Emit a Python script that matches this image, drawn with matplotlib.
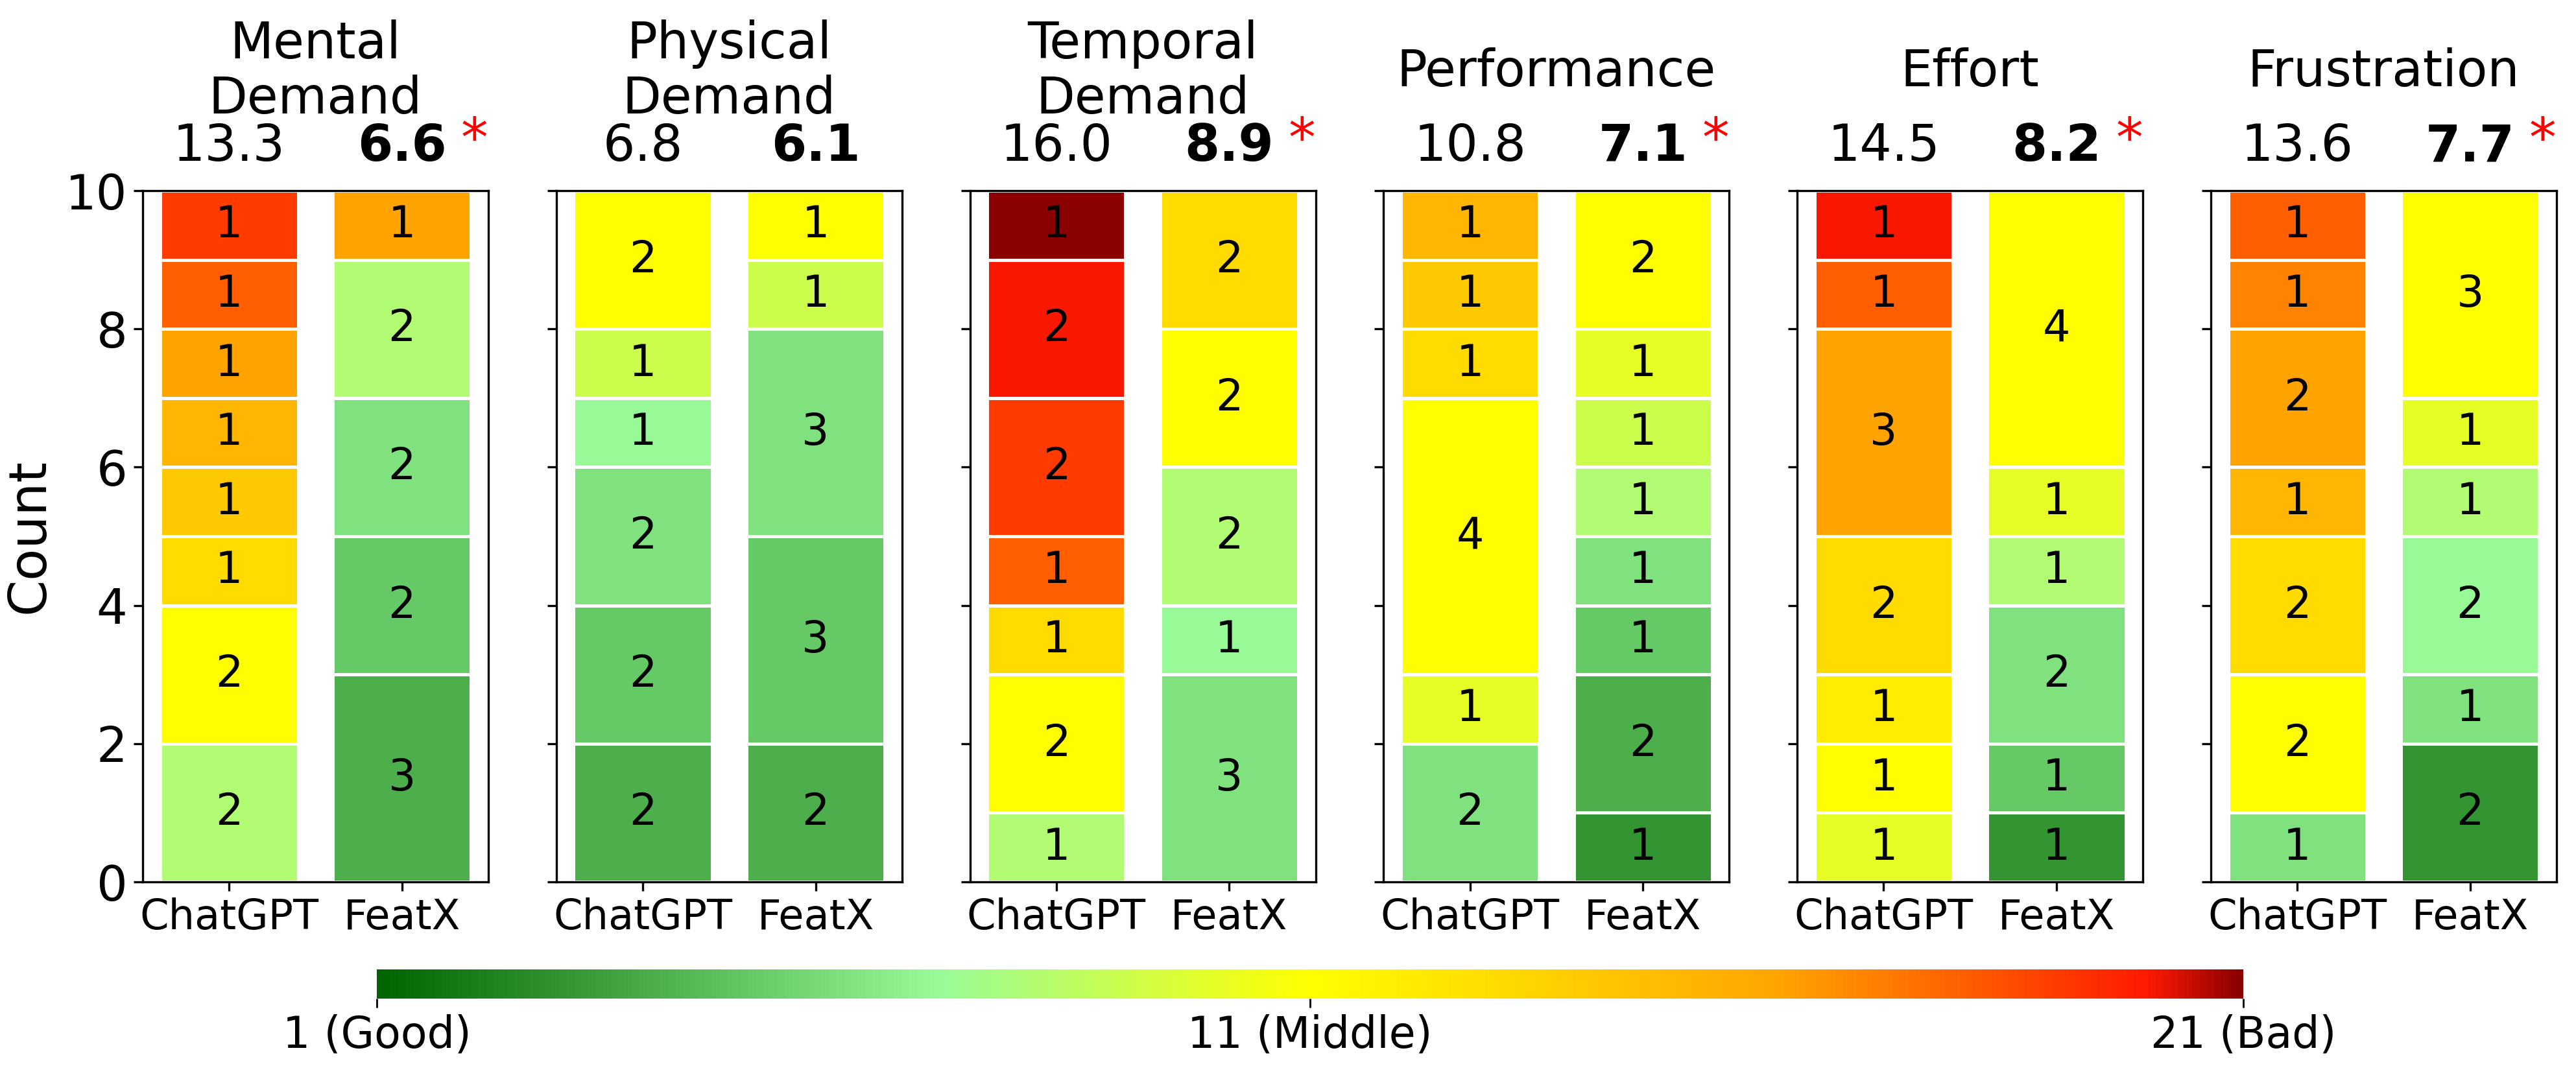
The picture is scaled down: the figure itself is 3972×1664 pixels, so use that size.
import numpy as np
import matplotlib
matplotlib.use("Agg")
import matplotlib.pyplot as plt
from matplotlib.colors import LinearSegmentedColormap, Normalize
from matplotlib.cm import ScalarMappable
from matplotlib.transforms import blended_transform_factory

# ── DATA: raw NASA-TLX scores (1-21) per participant ──────────────────────────
DIMENSIONS = ["Mental\nDemand", "Physical\nDemand", "Temporal\nDemand",
              "Performance", "Effort", "Frustration"]
SYSTEMS = ["ChatGPT", "FeatX"]

mental_chatgpt      = [8, 8, 11, 11, 13, 14, 15, 16, 18, 19]
mental_featx        = [4, 4, 4, 5, 5, 6, 6, 8, 8, 16]
physical_chatgpt    = [4, 4, 5, 5, 6, 6, 7, 9, 11, 11]
physical_featx      = [4, 4, 5, 5, 5, 6, 6, 6, 9, 11]
temporal_chatgpt    = [8, 11, 11, 13, 18, 19, 19, 20, 20, 21]
temporal_featx      = [6, 6, 6, 7, 8, 8, 11, 11, 13, 13]
performance_chatgpt = [6, 6, 10, 11, 11, 11, 11, 13, 14, 15]
performance_featx   = [3, 4, 4, 5, 6, 8, 9, 10, 11, 11]
effort_chatgpt      = [10, 11, 12, 13, 13, 16, 16, 16, 18, 20]
effort_featx        = [3, 5, 6, 6, 8, 10, 11, 11, 11, 11]
frustration_chatgpt = [6, 11, 11, 13, 13, 15, 16, 16, 17, 18]
frustration_featx   = [3, 3, 6, 7, 7, 8, 10, 11, 11, 11]

SIGNIFICANT = [True, False, True, True, True, True]

SCORES = [
    (mental_chatgpt, mental_featx),
    (physical_chatgpt, physical_featx),
    (temporal_chatgpt, temporal_featx),
    (performance_chatgpt, performance_featx),
    (effort_chatgpt, effort_featx),
    (frustration_chatgpt, frustration_featx),
]

CBAR_TICKS  = [1, 11, 21]
CBAR_LABELS = ["1 (Good)", "11 (Middle)", "21 (Bad)"]

# ── STYLE ─────────────────────────────────────────────────────────────────────
cmap = LinearSegmentedColormap.from_list("tlx", [
    (0.00, "#006400"),
    (0.30, "#98FB98"),
    (0.50, "#FFFF00"),
    (0.75, "#FFA500"),
    (0.95, "#FF1A00"),
    (1.00, "#8B0000"),
])
norm = Normalize(vmin=1, vmax=21)

W, H, DPI = 3972, 1664, 200
fig = plt.figure(figsize=(W / DPI, H / DPI), dpi=DPI)

ax_left0, ax_w, ax_step = 220 / W, 533 / W, 637.8 / W
ax_bot, ax_h = 1 - 1360 / H, 1066 / H

axes = []
for i, (dim, (s_gpt, s_fx)) in enumerate(zip(DIMENSIONS, SCORES)):
    ax = fig.add_axes([ax_left0 + i * ax_step, ax_bot, ax_w, ax_h])
    axes.append(ax)

    for xpos, scores in enumerate([s_gpt, s_fx]):
        vals, counts = np.unique(scores, return_counts=True)
        bottom = 0
        for v, c in zip(vals, counts):
            ax.bar(xpos, c, bottom=bottom, width=0.8, color=cmap(norm(v)),
                   edgecolor="white", linewidth=1.8)
            ax.text(xpos, bottom + c / 2, str(c), ha="center", va="center",
                    fontsize=24)
            bottom += c

    ax.set_xlim(-0.5, 1.5)
    ax.set_ylim(0, 10)
    ax.set_yticks(range(0, 11, 2))
    ax.set_xticks([0, 1])
    ax.set_xticklabels(SYSTEMS, fontsize=23)
    ax.tick_params(axis="y", labelsize=27, length=5, width=1.2)
    ax.tick_params(axis="x", length=5, width=1.2)
    for sp in ax.spines.values():
        sp.set_linewidth(1.2)
    if i > 0:
        ax.set_yticklabels([])

    # title + mean values above each panel
    trans = blended_transform_factory(ax.transData, ax.transAxes)
    ax.text(0.5, 1.172, dim, transform=ax.transAxes, ha="center", va="center",
            fontsize=28, linespacing=1.15)
    m_gpt, m_fx = np.mean(s_gpt), np.mean(s_fx)
    ax.text(0, 1.043, f"{m_gpt:.1f}", transform=trans, ha="center",
            va="baseline", fontsize=28,
            fontweight="bold" if m_gpt < m_fx else "normal")
    ax.text(1, 1.043, f"{m_fx:.1f}", transform=trans, ha="center",
            va="baseline", fontsize=28,
            fontweight="bold" if m_fx < m_gpt else "normal")
    if SIGNIFICANT[i]:
        ax.text(1.42, 1.05, "*", transform=trans, ha="center", va="baseline",
                fontsize=30, color="red")

axes[0].set_ylabel("Count", fontsize=29, labelpad=6)

# ── COLORBAR ──────────────────────────────────────────────────────────────────
cax = fig.add_axes([581 / W, 1 - 1540 / H, 2878 / W, 45 / H])
sm = ScalarMappable(norm=norm, cmap=cmap)
cb = fig.colorbar(sm, cax=cax, orientation="horizontal")
cb.set_ticks(CBAR_TICKS)
cb.set_ticklabels(CBAR_LABELS)
cb.ax.tick_params(labelsize=24, length=5, width=1.0)
cb.outline.set_visible(False)

fig.savefig("out.png", dpi=DPI)
